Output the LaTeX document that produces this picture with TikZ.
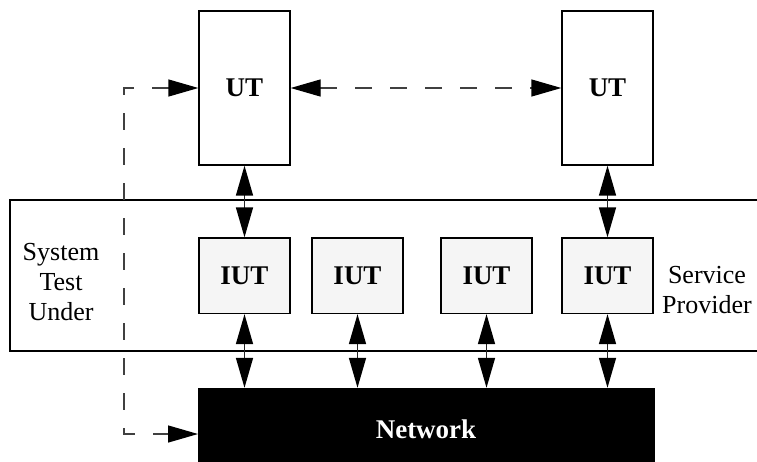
\documentclass[tikz,border=0pt]{standalone}
\usepackage{fontspec}
\setmainfont{LiberationSerif}[Extension=.ttf,UprightFont=*-Regular,
  BoldFont=*-Bold,ItalicFont=*-Italic,BoldItalicFont=*-BoldItalic]
\usetikzlibrary{arrows.meta,calc}
\begin{document}
\begin{tikzpicture}[x=1pt,y=-1pt,
  box/.style={draw=black,line width=1.3pt,inner sep=0pt,
    font=\fontsize{27}{30}\selectfont\bfseries},
  utbox/.style={box,fill=white,minimum width=91pt,minimum height=154pt},
  iutbox/.style={box,fill=black!4,minimum width=91pt,minimum height=75.5pt},
  tip/.style={Triangle[length=30pt,width=17pt,fill=black,draw=black]},
  link/.style={line width=1.5pt,draw=black!85,{Triangle[length=30pt,width=17pt,fill=black,color=black]}-{Triangle[length=30pt,width=17pt,fill=black,color=black]}},
  dlink/.style={line width=1.3pt,draw=black!75,dash pattern=on 17pt off 18pt,
    {Triangle[length=30pt,width=17pt,fill=black,color=black]}-{Triangle[length=30pt,width=17pt,fill=black,color=black]}},
  lbl/.style={align=center,font=\fontsize{26}{30}\selectfont,inner sep=0pt}]
\useasboundingbox (0,0) rectangle (757,461);

% system under test band, open to the right
\draw[line width=1.3pt] (770,200) -| (10,351) -- (770,351);

% upper testers
\node[utbox] (ut1) at (244.5,88) {UT};
\node[utbox] (ut2) at (607.5,88) {UT};

% implementations under test
\node[iutbox] (iut1) at (244.5,275.75) {IUT};
\node[iutbox] (iut2) at (357.5,275.75) {IUT};
\node[iutbox] (iut3) at (486.5,275.75) {IUT};
\node[iutbox] (iut4) at (607.5,275.75) {IUT};

% network
\node[draw=black,fill=black,text=white,inner sep=0pt,minimum width=456pt,
  minimum height=82pt,font=\fontsize{27}{30}\selectfont\bfseries]
  (net) at (426,429) {Network};

% labels
\node[lbl] (sut) at (61,282) {System\\Test\\Under};
\node[lbl] (sp) at (707,290) {Service\\Provider};

% solid links
\draw[link] (ut1.south) -- (iut1.north);
\draw[link] (ut2.south) -- (iut4.north);
\foreach \i in {1,2,3,4}
  \draw[link] (iut\i.south) -- (iut\i.south |- net.north);

% dashed test coordination links
\coordinate (dtop) at (124,88);
\coordinate (netin) at (198,434);
\draw[dlink] (ut1.west) -- (dtop) |- (netin);
\draw[dlink] (ut1.east) -- (ut2.west);
\end{tikzpicture}
\end{document}
